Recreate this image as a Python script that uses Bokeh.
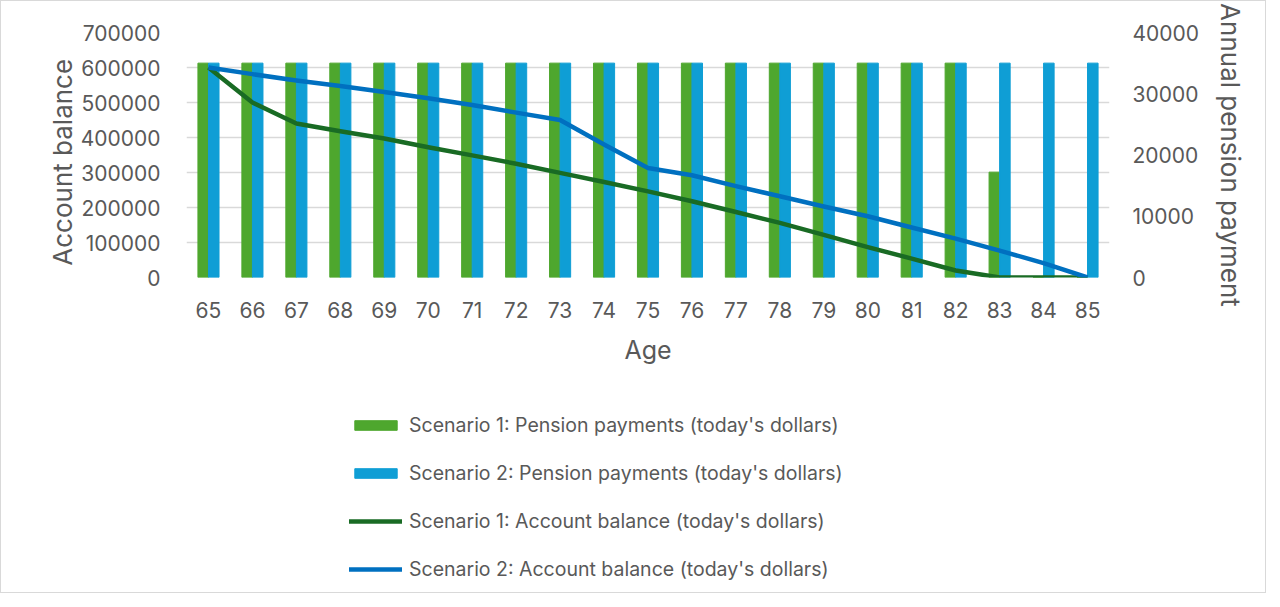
from bokeh.plotting import figure
from bokeh.models import (Range1d, LinearAxis, FixedTicker, PrintfTickFormatter,
                          Legend, LegendItem)
from bokeh.layouts import column
from bokeh.embed import file_html
from bokeh.resources import INLINE

ages = list(range(65, 86))
s1_pension = [35000] * 18 + [17200, 0, 0]
s2_pension = [35000] * 21
s1_balance = [600000, 500000, 440000, 418000, 397000, 372000, 349000, 325000, 299000,
              273000, 246000, 218000, 187000, 156000, 122000, 87000, 54000, 20000, 0, 0, 0]
s2_balance = [600000, 581000, 563000, 547000, 530000, 512000, 493000, 471000, 450000,
              380000, 313000, 292000, 261000, 232000, 203000, 175000, 143000, 111000,
              77000, 41000, 0]
left_ticks = [0, 100000, 200000, 300000, 400000, 500000, 600000, 700000]
right_ticks = [0, 10000, 20000, 30000, 40000]
labels = ["Scenario 1: Pension payments (today's dollars)",
          "Scenario 2: Pension payments (today's dollars)",
          "Scenario 1: Account balance (today's dollars)",
          "Scenario 2: Account balance (today's dollars)"]

FONT = "Inter"
TXT = "#595959"
GREEN_BAR = "#4EA72E"
BLUE_BAR = "#0F9ED5"
GREEN_LINE = "#196B24"
BLUE_LINE = "#0070C0"
NB = "\u00a0"

W = 1264
H1 = 388
H2 = 591 - H1

p = figure(width=W, height=H1, output_backend="svg", toolbar_location=None,
           x_range=Range1d(64.5, 85.5), y_range=Range1d(0, 700000),
           min_border_left=185, min_border_right=W - 1108, min_border_top=31,
           min_border_bottom=H1 - 276)
p.extra_y_ranges = {"pay": Range1d(0, 40000)}
p.outline_line_color = None
p.background_fill_color = "white"
p.border_fill_color = "white"

bw = 0.24
x1 = [a - bw / 2 for a in ages]
x2 = [a + bw / 2 for a in ages]
p.vbar(x=x1, top=s1_pension, width=bw, color=GREEN_BAR, y_range_name="pay")
p.vbar(x=x2, top=s2_pension, width=bw, color=BLUE_BAR, y_range_name="pay")
p.line(ages, s1_balance, line_color=GREEN_LINE, line_width=4.5, line_join="round")
p.line(ages, s2_balance, line_color=BLUE_LINE, line_width=4.5, line_join="round")

def style_axis(ax):
    ax.axis_line_color = None
    ax.major_tick_line_color = None
    ax.minor_tick_line_color = None
    ax.major_label_text_font = FONT
    ax.major_label_text_font_size = "21px"
    ax.major_label_text_color = TXT
    ax.axis_label_text_font = FONT
    ax.axis_label_text_font_size = "26px"
    ax.axis_label_text_color = TXT
    ax.axis_label_text_font_style = "normal"

xa = p.xaxis[0]
xa.ticker = FixedTicker(ticks=ages)
xa.axis_label = "Age"
style_axis(xa)
xa.axis_label_text_font_size = "25px"
xa.major_label_standoff = 18
xa.axis_label_standoff = 14

ya = p.yaxis[0]
ya.ticker = FixedTicker(ticks=left_ticks)
ya.formatter = PrintfTickFormatter(format="%d")
ya.axis_label = "Account balance" + NB * 2
style_axis(ya)
ya.major_label_standoff = 20
ya.axis_label_standoff = 0

ra = LinearAxis(y_range_name="pay", ticker=FixedTicker(ticks=right_ticks),
                formatter=PrintfTickFormatter(format="%d"),
                axis_label="Annual pension payment")
style_axis(ra)
ra.major_label_standoff = 17
ra.axis_label_standoff = 13
p.add_layout(ra, "right")

p.xgrid.grid_line_color = None
p.ygrid.grid_line_color = "#D9D9D9"
p.ygrid.grid_line_width = 1.3

# legend panel below the chart (sample glyphs placed outside its visible range)
q = figure(width=W, height=H2, output_backend="svg", toolbar_location=None,
           x_range=Range1d(0, 1), y_range=Range1d(0, 1),
           min_border_left=0, min_border_right=0, min_border_top=0, min_border_bottom=0)
q.axis.visible = False
q.grid.grid_line_color = None
q.outline_line_color = None
q.background_fill_color = None
q.border_fill_color = None
g1 = q.vbar(x=[-5], top=[-1], width=0.1, color=GREEN_BAR)
g2 = q.vbar(x=[-5], top=[-1], width=0.1, color=BLUE_BAR)
g3 = q.line(x=[-6, -5], y=[-5, -5], line_color=GREEN_LINE, line_width=4.5, line_cap="round")
g4 = q.line(x=[-6, -5], y=[-5, -5], line_color=BLUE_LINE, line_width=4.5, line_cap="round")

legend = Legend(items=[LegendItem(label=labels[0], renderers=[g1]),
                       LegendItem(label=labels[1], renderers=[g2]),
                       LegendItem(label=labels[2], renderers=[g3]),
                       LegendItem(label=labels[3], renderers=[g4])],
                location=(163, 11), orientation="vertical")
legend.glyph_width = 53
legend.glyph_height = 12
legend.label_height = 12
legend.spacing = 24
legend.padding = 10
legend.margin = 0
legend.label_standoff = 7
legend.label_text_font = FONT
legend.label_text_font_size = "19.5px"
legend.label_text_color = TXT
legend.border_line_color = None
legend.background_fill_alpha = 0
q.add_layout(legend, "center")

layout = column(p, q, spacing=0)
layout.styles = {"border": "1px solid #D9D9D9", "background-color": "white"}

open("out.html", "w").write(file_html(layout, INLINE))
